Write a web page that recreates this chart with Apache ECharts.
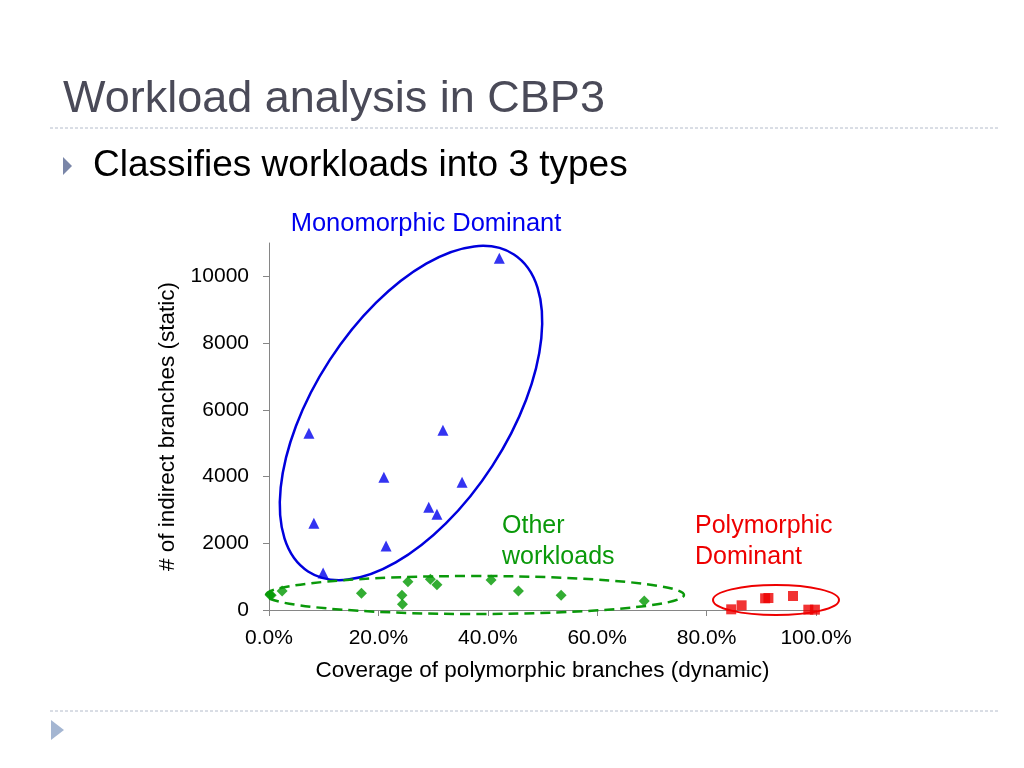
<!DOCTYPE html>
<html><head><meta charset="utf-8">
<script src="https://cdn.jsdelivr.net/npm/echarts@6/dist/echarts.min.js"></script>
<style>html,body{margin:0;padding:0;background:#fff}#c{width:1024px;height:768px}</style>
</head><body><div id="c"></div>
<script>
// Monomorphic dominant workloads (blue triangles)
const monoX = [0.421, 0.073, 0.318, 0.210, 0.353, 0.292, 0.307, 0.082, 0.214, 0.099];
const monoY = [10540, 5300, 5390, 3980, 3830, 3080, 2870, 2600, 1920, 1110];
// Other workloads (green diamonds)
const otherX = [0.002, 0.004, 0.024, 0.169, 0.243, 0.244, 0.254, 0.295, 0.307, 0.406, 0.456, 0.534, 0.686];
const otherY = [450, 440, 570, 500, 440, 170, 850, 920, 760, 900, 570, 440, 270];
// Polymorphic dominant workloads (red squares)
const polyX = [0.845, 0.864, 0.907, 0.913, 0.958, 0.986, 0.998];
const polyY = [20, 140, 350, 360, 420, 10, 10];
// Axis ticks
const yTicks = [0, 2000, 4000, 6000, 8000, 10000];
const xTicks = [0, 0.2, 0.4, 0.6, 0.8, 1.0];

const FONT = '"Liberation Sans", Arial, sans-serif';
const zip = (xs, ys) => xs.map((x, i) => [x, ys[i]]);
const chart = echarts.init(document.getElementById('c'), null, {renderer: 'canvas'});

const axisLineStyle = {color: '#868686', width: 1};
chart.setOption({
  backgroundColor: '#ffffff',
  animation: false,
  grid: {left: 269, right: 208, top: 243, bottom: 158, containLabel: false},
  xAxis: {
    type: 'value', min: 0, max: 1, interval: 0.2,
    name: 'Coverage of polymorphic branches (dynamic)',
    nameLocation: 'middle', nameGap: 49,
    nameTextStyle: {fontFamily: FONT, fontSize: 22.5, color: '#000'},
    axisLine: {show: true, lineStyle: axisLineStyle},
    axisTick: {show: true, length: 6, lineStyle: axisLineStyle, customValues: xTicks},
    axisLabel: {fontFamily: FONT, fontSize: 21, color: '#000', margin: 18, customValues: xTicks,
      formatter: v => (Math.round(v * 1000) / 10).toFixed(1) + '%'},
    splitLine: {show: false}
  },
  yAxis: {
    type: 'value', min: 0, max: 11000, interval: 2000,
    name: '# of indirect branches (static)',
    nameLocation: 'middle', nameGap: 88, nameRotate: 90,
    nameTextStyle: {fontFamily: FONT, fontSize: 22.5, color: '#000'},
    axisLine: {show: true, lineStyle: axisLineStyle},
    axisTick: {show: true, length: 6, lineStyle: axisLineStyle, customValues: yTicks},
    axisLabel: {fontFamily: FONT, fontSize: 21, color: '#000', margin: 20, customValues: yTicks,
      formatter: v => String(v)},
    splitLine: {show: false}
  },
  series: [
    {type: 'scatter', data: zip(monoX, monoY), symbol: 'triangle', symbolSize: 11,
      itemStyle: {color: '#0000ee'}, z: 5, clip: false},
    {type: 'scatter', data: zip(otherX, otherY), symbol: 'diamond', symbolSize: 11,
      itemStyle: {color: '#009900'}, z: 5, clip: false},
    {type: 'scatter', data: zip(polyX, polyY), symbol: 'rect', symbolSize: 10,
      itemStyle: {color: '#ee0000'}, z: 5, clip: false}
  ],
  graphic: [
    // slide decorations
    {type: 'text', left: 63, top: 77, style: {text: 'Workload analysis in CBP3', font: '45px ' + FONT, fill: '#4a4a58'}},
    {type: 'line', shape: {x1: 50, y1: 128, x2: 1000, y2: 128}, style: {stroke: '#b4bccb', lineWidth: 1, lineDash: [3, 2]}},
    {type: 'polygon', shape: {points: [[63, 157], [72, 166], [63, 175]]}, style: {fill: '#7a86a8'}},
    {type: 'text', left: 93, top: 147, style: {text: 'Classifies workloads into 3 types', font: '37px ' + FONT, fill: '#000'}},
    {type: 'line', shape: {x1: 50, y1: 711, x2: 1000, y2: 711}, style: {stroke: '#b4bccb', lineWidth: 1, lineDash: [3, 2]}},
    {type: 'polygon', shape: {points: [[51, 720], [64, 730], [51, 740]]}, style: {fill: '#a4b6d2'}},
    // annotations
    {type: 'text', x: 426, y: 224, style: {text: 'Monomorphic Dominant', font: '25.5px ' + FONT, fill: '#0000ee', align: 'center', verticalAlign: 'middle'}},
    {type: 'text', x: 502, y: 511, style: {text: 'Other\nworkloads', font: '25px ' + FONT, fill: '#0a990a', lineHeight: 31, align: 'left', verticalAlign: 'top'}},
    {type: 'text', x: 695, y: 511, style: {text: 'Polymorphic\nDominant', font: '25px ' + FONT, fill: '#ee0000', lineHeight: 31, align: 'left', verticalAlign: 'top'}},
    {type: 'ellipse', x: 411, y: 413, rotation: 57 * Math.PI / 180, shape: {cx: 0, cy: 0, rx: 189, ry: 97},
      style: {fill: 'none', stroke: '#0000dd', lineWidth: 2.5}, z: 10},
    {type: 'ellipse', x: 475, y: 595, shape: {cx: 0, cy: 0, rx: 209, ry: 19},
      style: {fill: 'none', stroke: '#0a990a', lineWidth: 2.5, lineDash: [10, 6]}, z: 10},
    {type: 'ellipse', x: 776, y: 600, shape: {cx: 0, cy: 0, rx: 63, ry: 15},
      style: {fill: 'none', stroke: '#ee0000', lineWidth: 2}, z: 10}
  ]
});
</script>
</body></html>
